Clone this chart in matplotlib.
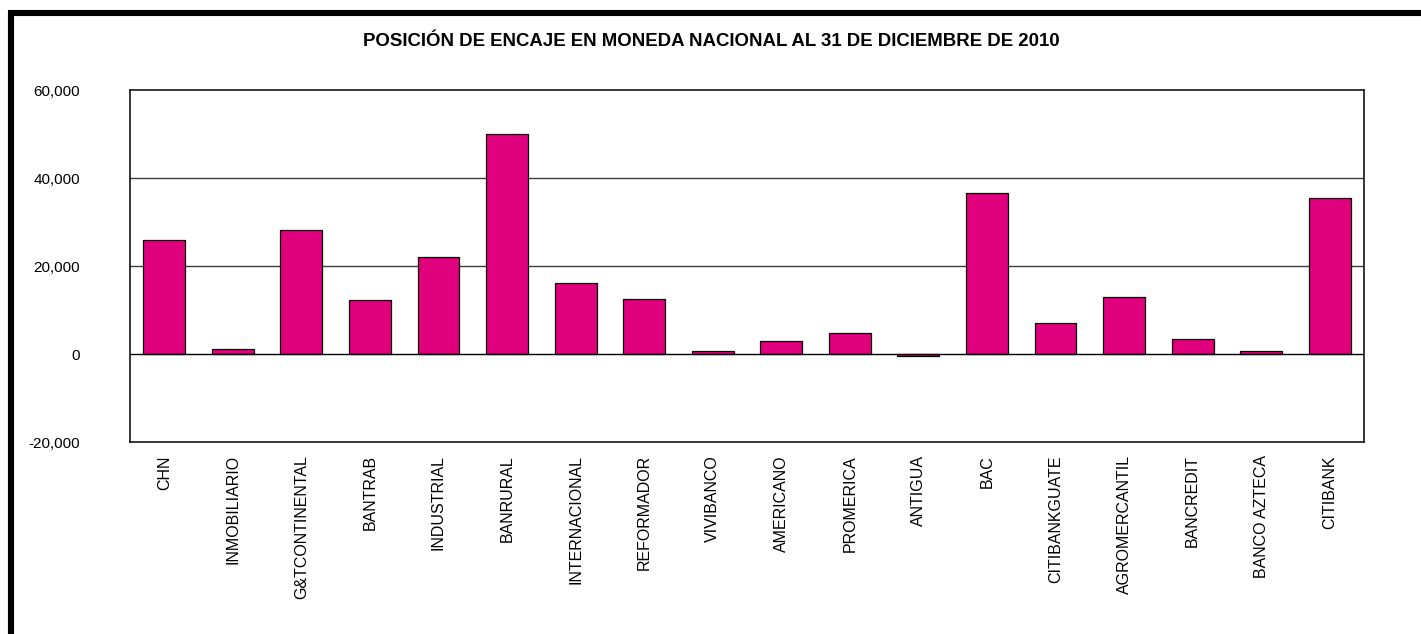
import matplotlib
matplotlib.use("Agg")
import matplotlib.pyplot as plt
from matplotlib.lines import Line2D
from matplotlib.ticker import FuncFormatter

plt.rcParams['font.family'] = ['Liberation Sans', 'DejaVu Sans']

# Posición de encaje por banco (miles de quetzales)
bancos = ["CHN", "INMOBILIARIO", "G&TCONTINENTAL", "BANTRAB", "INDUSTRIAL",
          "BANRURAL", "INTERNACIONAL", "REFORMADOR", "VIVIBANCO", "AMERICANO",
          "PROMERICA", "ANTIGUA", "BAC", "CITIBANKGUATE", "AGROMERCANTIL",
          "BANCREDIT", "BANCO AZTECA", "CITIBANK"]
posicion = [25800, 1050, 28200, 12200, 22000,
            50100, 16200, 12500, 600, 2900,
            4700, -500, 36500, 7050, 12900,
            3300, 650, 35500]

W, H = 1421, 634
fig = plt.figure(figsize=(W / 100, H / 100), dpi=100)
fig.patch.set_facecolor("white")

ax = fig.add_axes([130 / W, 1 - 442 / H, (1364 - 130) / W, (442 - 90) / H])

x = list(range(len(bancos)))
ax.bar(x, posicion, width=0.61, color="#E0007E", edgecolor="black",
       linewidth=0.9, zorder=3)

ax.set_xlim(-0.5, len(bancos) - 0.5)
ax.set_ylim(-20000, 60000)
ax.set_yticks([-20000, 0, 20000, 40000, 60000])
ax.yaxis.set_major_formatter(FuncFormatter(lambda v, p: f"{int(v):,}"))
ax.set_xticks(x)
ax.set_xticklabels(bancos, rotation=90, va="top", ha="center")

ax.tick_params(axis="y", length=0, pad=36, labelsize=11)
ax.tick_params(axis="x", length=0, pad=9.5, labelsize=11.5)

for v in [20000, 40000]:
    ax.axhline(v, color="#3a3a3a", linewidth=1.0, zorder=1)
ax.axhline(0, color="black", linewidth=1.0, zorder=4)

for s in ax.spines.values():
    s.set_linewidth(1.1)
    s.set_color("black")

fig.text(711 / W, 1 - 42 / H,
         "POSICIÓN DE ENCAJE EN MONEDA NACIONAL AL 31 DE DICIEMBRE DE 2010",
         ha="center", va="center", fontsize=13.4, fontweight="bold")

# marco grueso (solo arriba e izquierda visibles)
fig.add_artist(Line2D([8 / W, 1.0], [1 - 13 / H, 1 - 13 / H],
                      transform=fig.transFigure, color="black", linewidth=4.4,
                      solid_capstyle="butt"))
fig.add_artist(Line2D([11 / W, 11 / W], [0.0, 1 - 10 / H],
                      transform=fig.transFigure, color="black", linewidth=4.4,
                      solid_capstyle="butt"))

fig.savefig("out.png", dpi=100)
